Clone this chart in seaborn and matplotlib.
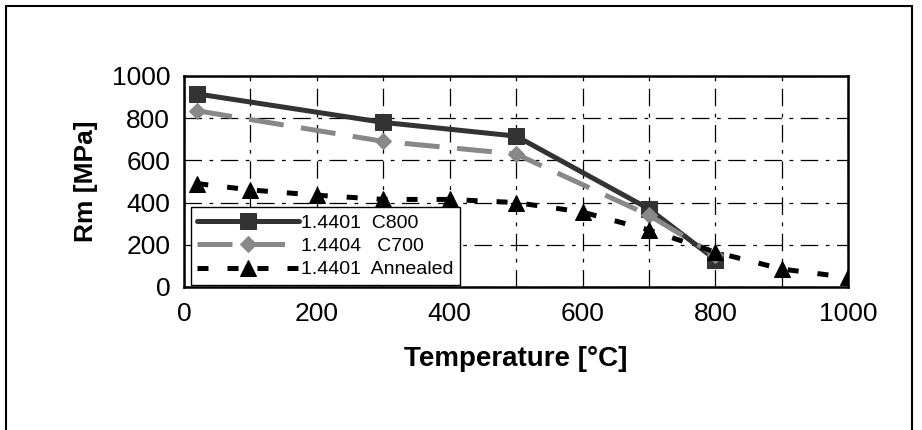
import matplotlib
matplotlib.use("Agg")
import matplotlib.pyplot as plt
import seaborn as sns
from matplotlib.ticker import MultipleLocator

# data
temp_c800 = [20, 300, 500, 700, 800]
rm_c800 = [915, 780, 715, 370, 130]

temp_c700 = [20, 300, 500, 700, 800]
rm_c700 = [835, 690, 630, 340, 150]

temp_ann = [20, 100, 200, 300, 400, 500, 600, 700, 800, 900, 1000]
rm_ann = [490, 460, 435, 415, 415, 400, 355, 270, 165, 85, 45]

sns.set_style("white")
plt.rcParams["font.family"] = ["Liberation Sans", "DejaVu Sans"]
plt.rcParams["text.color"] = "black"
plt.rcParams["axes.labelcolor"] = "black"
plt.rcParams["xtick.color"] = "black"
plt.rcParams["ytick.color"] = "black"

fig = plt.figure(figsize=(9.22, 4.30), dpi=100)
ax = fig.add_axes([0.1996, 0.3326, 0.7204, 0.4907])

ax.set_xlim(0, 1000)
ax.set_ylim(0, 1000)
ax.xaxis.set_major_locator(MultipleLocator(200))
ax.xaxis.set_minor_locator(MultipleLocator(100))
ax.yaxis.set_major_locator(MultipleLocator(200))
ax.grid(True, which="both", axis="x", color="black", lw=0.9, ls=(0, (14, 6, 3, 6)))
ax.grid(True, which="major", axis="y", color="black", lw=0.9, ls=(0, (14, 6, 3, 6)))
ax.set_axisbelow(True)

sns.lineplot(x=temp_c800, y=rm_c800, ax=ax, color="#333333", lw=3.6,
             marker="s", markersize=11, markeredgecolor="#333333",
             label="1.4401  C800")
sns.lineplot(x=temp_c700, y=rm_c700, ax=ax, color="#888888", lw=3.6,
             marker="D", markersize=8, markeredgecolor="#888888",
             label="1.4404   C700")
ax.lines[-1].set_dashes((7, 3.5))
sns.lineplot(x=temp_ann, y=rm_ann, ax=ax, color="black", lw=3.6,
             marker="^", markersize=11, markeredgecolor="black",
             label="1.4401  Annealed")
ax.lines[-1].set_dashes((2.2, 3.8))

for s in ax.spines.values():
    s.set_color("black")
    s.set_linewidth(1.8)

ax.tick_params(axis="both", which="major", direction="out", length=6, width=1,
               color="black", labelsize=19, pad=4)
ax.tick_params(axis="x", which="minor", length=0)
ax.tick_params(axis="x", pad=5)

ax.set_xlabel("Temperature [°C]", fontsize=20, fontweight="bold", labelpad=14)
ax.set_ylabel("Rm [MPa]", fontsize=19, fontweight="bold", labelpad=10)

leg = ax.legend(loc="lower left", bbox_to_anchor=(0.01, 0.008), frameon=True,
                fancybox=False, edgecolor="black", fontsize=14, handlelength=5.2,
                handletextpad=0.1, borderpad=0.35, labelspacing=0.3,
                borderaxespad=0.0)
leg.get_frame().set_linewidth(1.0)
leg.get_frame().set_alpha(1)

# outer border (top, left, right)
for xs, ys in [([0.0065, 0.9892], [0.986, 0.986]),
               ([0.0065, 0.0065], [0.0, 0.986]),
               ([0.9892, 0.9892], [0.0, 0.986])]:
    fig.add_artist(plt.Line2D(xs, ys, transform=fig.transFigure, color="black", lw=1.5))

fig.savefig("out.png", dpi=100)
